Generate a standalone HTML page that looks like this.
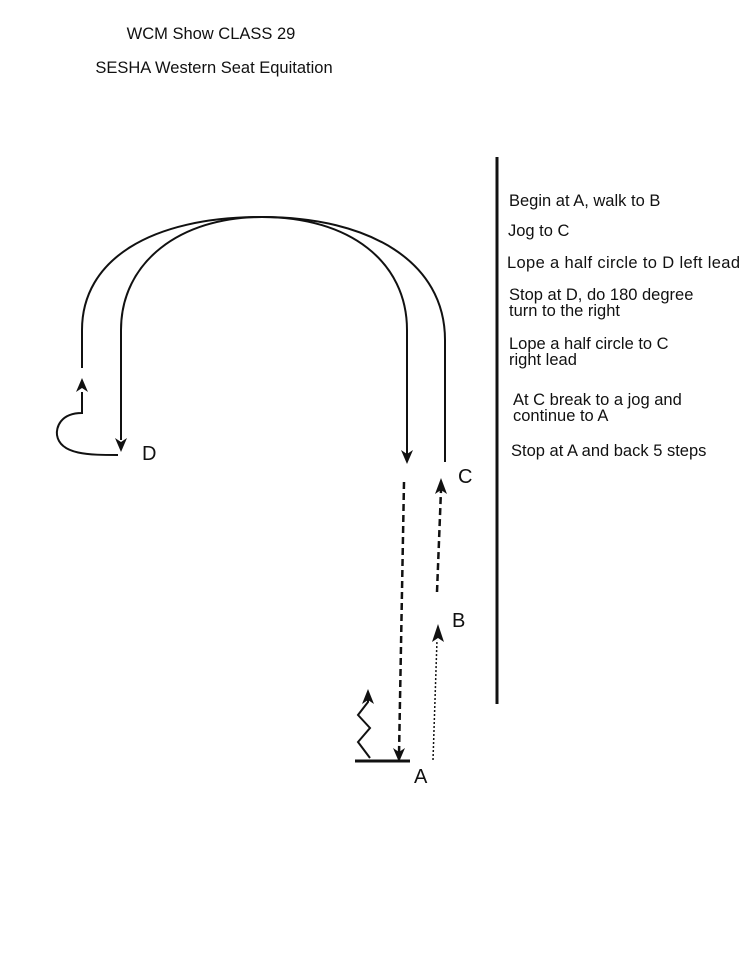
<!DOCTYPE html>
<html><head><style>body{margin:0;background:#fff}svg{display:block}</style></head>
<body>
<svg width="750" height="957" viewBox="0 0 750 957" xmlns="http://www.w3.org/2000/svg" font-family="Liberation Sans, Arial, sans-serif">
<g font-size="16.5" fill="#111">
<text x="211" y="39" text-anchor="middle">WCM Show CLASS 29</text>
<text x="214" y="73" text-anchor="middle">SESHA Western Seat Equitation</text>
</g>
<line x1="497" y1="157" x2="497" y2="704" stroke="#111" stroke-width="3"/>
<g font-size="16.5" fill="#111">
<text x="509" y="206">Begin at A, walk to B</text>
<text x="508" y="236">Jog to C</text>
<text x="507" y="268" textLength="233">Lope a half circle to D left lead</text>
<text x="509" y="300">Stop at D, do 180 degree</text>
<text x="509" y="316">turn to the right</text>
<text x="509" y="349">Lope a half circle to C</text>
<text x="509" y="365">right lead</text>
<text x="513" y="405">At C break to a jog and</text>
<text x="513" y="421">continue to A</text>
<text x="511" y="456">Stop at A and back 5 steps</text>
</g>
<g font-size="20" fill="#111">
<text x="142" y="460">D</text>
<text x="458" y="483">C</text>
<text x="452" y="627">B</text>
<text x="414" y="783">A</text>
</g>
<g fill="none" stroke="#111" stroke-width="2">
<path d="M82,368 L82,330 C82,260 150,217 262,217 C370,217 445,262 445,340 L445,462"/>
<path d="M121,440 L121,330 C121,262 180,217 262,217 C350,217 407,262 407,330 L407,455" />
<path d="M82,392 L82,413 C60,413 56,428 57,435 C60,455 90,455 118,455"/>
<path d="M404,482 L399,755" stroke-dasharray="7,4" stroke-width="2.5"/>
<path d="M437,592 L441,490" stroke-dasharray="7,4" stroke-width="2.5"/>
<path d="M433,760 L437,640" stroke-dasharray="2,2" stroke-width="1.5"/>
<path d="M355,761 L410,761" stroke-width="3"/>
<path d="M370,758 L358,742 L370,728 L358,715 L368,702 L368,700"/>
</g>
<g fill="#111">
<path d="M82,378 l-6,14 l6,-4 l6,4 z"/>
<path d="M121,452 l-6,-14 l6,4 l6,-4 z"/>
<path d="M407,464 l-6,-14 l6,4 l6,-4 z"/>
<path d="M399,762 l-6,-14 l6,4 l6,-4 z"/>
<path d="M441,478 l-6,16 l6,-4 l6,4 z"/>
<path d="M438,624 l-6,18 l6,-4 l6,4 z"/>
<path d="M368,689 l-6,15 l6,-4 l6,4 z"/>
</g>
</svg>
</body></html>
